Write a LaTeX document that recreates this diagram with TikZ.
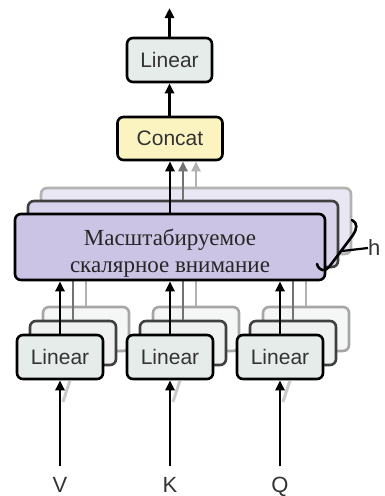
\documentclass[tikz,border=0pt]{standalone}
\usepackage{fontspec}
\newfontfamily\sansf{Liberation Sans}
\newfontfamily\serf{Liberation Serif}
\usetikzlibrary{arrows.meta}
\definecolor{linfill}{HTML}{E6ECEA}
\definecolor{linfillb}{HTML}{EEF1F0}
\definecolor{linfillc}{HTML}{F5F6F6}
\definecolor{catfill}{HTML}{FBF4C1}
\definecolor{attfill}{HTML}{CBC4E4}
\definecolor{attfillb}{HTML}{D9D4EC}
\definecolor{attfillc}{HTML}{E9E7F3}
\definecolor{txt}{HTML}{333333}
\tikzset{
  box/.style={draw, line width=2.6pt, rounded corners=6pt, inner sep=0pt},
  lin/.style={box, fill=linfill, minimum width=86pt, minimum height=44pt,
    font=\sansf\fontsize{21}{24}\selectfont, text=txt},
  linmid/.style={lin, draw=black!75, fill=linfillb},
  linback/.style={lin, draw=black!35, fill=linfillc},
  att/.style={box, fill=attfill, minimum width=310pt, minimum height=66pt},
  attmid/.style={att, draw=black!75, fill=attfillb},
  attback/.style={att, draw=black!30, fill=attfillc},
  arr/.style={line width=2.6pt, -{Triangle[length=10pt,width=9pt]}},
  arrmid/.style={arr, draw=black!55},
  arrback/.style={arr, draw=black!30},
  ghost/.style={line width=2.6pt, draw=black!55},
  ghostb/.style={line width=2.6pt, draw=black!30},
  lbl/.style={font=\sansf\fontsize{22}{24}\selectfont, text=txt, inner sep=0pt}
}
\begin{document}
\begin{tikzpicture}[x=1pt, y=-1pt]
\useasboundingbox (0,0) rectangle (384,496);

% output block: concat and final linear layer
\node[box, fill=catfill, minimum width=105pt, minimum height=43pt,
  font=\sansf\fontsize{21}{24}\selectfont, text=txt] (concat) at (170,138.5) {Concat};
\node[lin, minimum width=85pt] (outlin) at (169.5,60) {Linear};
\coordinate (out) at (169.5,8);
\draw[arr] (outlin.north) -- (out);
\draw[arr] (concat.north -| outlin.south) -- (outlin.south);

% attention heads, stacked back to front
\node[attback] (att3) at (196,221) {};
\node[attmid] (att2) at (183,234) {};
\draw[arrback] (att3.north) -- (att3.north |- concat.south);
\draw[arrmid] (att2.north) -- (att2.north |- concat.south);

% projection layers for V, K and Q
\foreach \n/\cx in {v/60,k/170,q/280} {
  \node[linback] (\n3) at (\cx+26,329) {};
  \draw[ghostb] (\n3.north) -- (\n3.north |- att3.south);
  \node[linmid] (\n2) at (\cx+13,343) {};
  \draw[ghost] (\n2.north) -- (\n2.north |- att2.south);
}
\node[att] (att1) at (170,247) {};
\node[align=center, font=\serf\fontsize{23}{27}\selectfont, text=black!85, inner sep=0pt]
  (atttext) at (170,253) {Масштабируемое\\скалярное внимание};
\draw[arr] (att1.north -| concat.south) -- (concat.south);

\foreach \n/\cx/\lab in {v/60/V,k/170/K,q/280/Q} {
  \node[lin] (\n1) at (\cx,357) {Linear};
  \draw[arr] (\n1.north) -- (\n1.north |- att1.south);
  \coordinate (\n in) at (\cx,466);
  \coordinate (\n gh) at (\cx+3,402);
  \draw[line width=3pt, draw=black!35, opacity=0.6] (\n gh) -- (\n1.south -| {\cx+10,0});
  \draw[arr] (\n in) -- (\n1.south);
  \node[lbl, anchor=base] (\n lab) at (\cx,492) {\lab};
}

% brace marking the number of heads
\draw[line width=2.6pt, line cap=round, line join=round]
  (317,264) .. controls (319,271) and (325,272) .. (329,267)
  -- coordinate[pos=0.5] (bmid) (353,235)
  .. controls (357,229) and (358,223) .. (352,220);
\node[lbl, anchor=west] (h) at (368,248) {h};
\draw[line width=2.2pt] ([shift={(1,0)}]bmid) -- (h.west);
\end{tikzpicture}
\end{document}
